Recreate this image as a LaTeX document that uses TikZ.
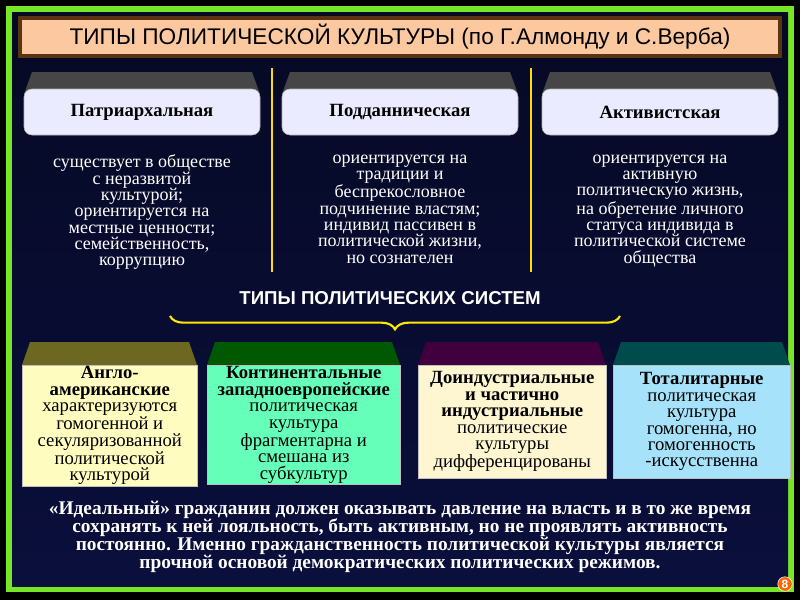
\documentclass[tikz,border=0pt]{standalone}
\usepackage{fontspec}
\setmainfont{Liberation Serif}
\newfontfamily\headfont{Liberation Sans}
\usetikzlibrary{decorations.pathreplacing}
\definecolor{navy}{RGB}{10,15,60}
\definecolor{frame}{RGB}{120,230,40}
\definecolor{peach}{RGB}{252,200,160}
\definecolor{brownish}{RGB}{90,50,20}
\tikzset{topface/.style={fill=blue!8!white, draw=gray!60, rounded corners=6pt},
  bevel/.style={fill=gray!55!black},
  plain/.style={text=white, align=center, font=\fontsize{13.5}{12.3}\selectfont},
  sysface/.style={draw=gray!50, align=center, font=\fontsize{14}{12.3}\selectfont},
  sep/.style={draw=yellow!80!orange, line width=1pt}}
\begin{document}
\begin{tikzpicture}[x=0.75pt,y=-0.75pt]
  \useasboundingbox (0,0) rectangle (800,600);
  \fill[black] (0,0) rectangle (800,600);
  \fill[frame] (6,6) rectangle (794,592);
  \shade[top color=navy!60!black, bottom color=navy] (12,12) rectangle (788,586);
  % heading
  \fill[brownish] (18,16) rectangle (782,58);
  \node[fill=peach, minimum width=567pt, minimum height=22.5pt, font=\headfont\fontsize{17}{18}\selectfont] (title) at (400,37) {ТИПЫ ПОЛИТИЧЕСКОЙ КУЛЬТУРЫ (по Г.Алмонду и С.Верба)};
  % culture types
  \foreach \cx/\nm/\lbl in {142/patr/Патриархальная, 400/podd/Подданническая, 660/akt/Активистская}{
    \fill[bevel] (\cx-110,72) -- (\cx+110,72) -- (\cx+118,94) -- (\cx-118,94) -- cycle;
    \node[topface, minimum width=177pt, minimum height=34.5pt, font=\bfseries\fontsize{14}{14}\selectfont] (\nm) at (\cx,112) {\lbl};
  }
  \draw[sep] (272,68) -- (272,272);
  \draw[sep] (531,68) -- (531,272);
  \node[plain, anchor=north] (d1) at (142,150) {существует в обществе\\с неразвитой\\культурой;\\ориентируется на\\местные ценности;\\семейственность,\\коррупцию};
  \node[plain, anchor=north] (d2) at (400,150) {ориентируется на\\традиции и\\беспрекословное\\подчинение властям;\\индивид пассивен в\\политической жизни,\\но сознателен};
  \node[plain, anchor=north] (d3) at (660,150) {ориентируется на\\активную\\политическую жизнь,\\на обретение личного\\статуса индивида в\\политической системе\\общества};
  % brace
  \draw[yellow!90!orange, line width=1.6pt, decoration={brace, amplitude=10pt}, decorate] (620,316) -- (170,316);
  \node[text=white, font=\headfont\bfseries\fontsize{14}{14}\selectfont] (sys) at (390,298) {ТИПЫ ПОЛИТИЧЕСКИХ СИСТЕМ};
  % political systems
  \foreach \xa/\xb/\top/\col/\nm/\txt in {
    22/197/olive!70!black/yellow!25/s1/{\textbf{Англо-}\\\textbf{американские}\\характеризуются\\гомогенной и\\секуляризованной\\политической\\культурой},
    207/400/green!35!black/green!45!cyan!60/s2/{\textbf{Континентальные}\\\textbf{западноевропейские}\\политическая\\культура\\фрагментарна и\\смешана из\\субкультур},
    418/606/violet!50!black/magenta!15!yellow!20/s3/{\textbf{Доиндустриальные}\\\textbf{и частично}\\\textbf{индустриальные}\\политические\\культуры\\дифференцированы},
    613/790/teal!60!black/cyan!35/s4/{\textbf{Тоталитарные}\\политическая\\культура\\гомогенна, но\\гомогенность\\-искусственна}}{
    \fill[\top] (\xa+8,342) -- (\xb-8,342) -- (\xb,365) -- (\xa,365) -- cycle;
    \pgfmathsetlengthmacro{\bw}{(\xb-\xa)*0.75pt}
    \node[sysface, fill=\col, minimum width=\bw, minimum height=84.75pt, anchor=north west, inner sep=1pt] (\nm) at (\xa,365) {\txt};
  }
  % conclusion
  \node[text=white, align=center, font=\bfseries\fontsize{14.5}{13.5}\selectfont] (ideal) at (400,537) {«Идеальный» гражданин должен оказывать давление на власть и в то же время\\сохранять к ней лояльность, быть активным, но не проявлять активность\\постоянно. Именно гражданственность политической культуры является\\прочной основой демократических политических режимов.};
  \node[circle, fill=orange!80!red, draw=white, text=white, inner sep=1pt, font=\headfont\bfseries\fontsize{9}{9}\selectfont] (pg) at (785,584) {8};
\end{tikzpicture}
\end{document}
